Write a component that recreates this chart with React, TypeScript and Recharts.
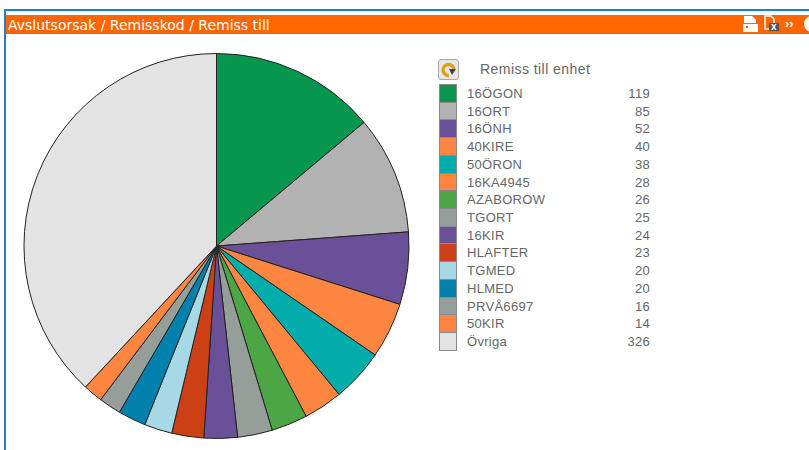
import { PieChart, Pie, Cell, Legend } from 'recharts'

const LABELS = ['16ÖGON', '16ORT', '16ÖNH', '40KIRE', '50ÖRON', '16KA4945', 'AZABOROW', 'TGORT', '16KIR', 'HLAFTER', 'TGMED', 'HLMED', 'PRVÅ6697', '50KIR', 'Övriga']
const VALUES = [119, 85, 52, 40, 38, 28, 26, 25, 24, 23, 20, 20, 16, 14, 326]
const COLORS = ['#06964e', '#b2b2b2', '#6a5096', '#ff8640', '#00adaa', '#ff8640', '#4ca646', '#959e98', '#6a5096', '#cd3f14', '#a6d8e6', '#0080ad', '#959e98', '#ff8640', '#e3e3e3']

const data = LABELS.map((name, i) => ({ name, value: VALUES[i] }))

function LegendTable() {
  return (
    <div style={{ position: 'relative', width: 225, height: 310, fontFamily: 'Liberation Sans, Arial, sans-serif', fontSize: 13, color: '#666' }}>
      <div style={{ position: 'absolute', left: 1, top: -25, width: 21, height: 21, boxSizing: 'border-box', background: '#e8e8e8', border: '1px solid #aaa', borderRadius: 3 }}>
        <svg width="19" height="19" viewBox="0 0 19 19">
          <path d="M4 10 A5.5 5.5 0 1 1 15 10" fill="none" stroke="#e0a010" strokeWidth="3.4" />
          <path d="M4 10 A5.5 5.5 0 0 0 10 15.5" fill="none" stroke="#e0a010" strokeWidth="3.4" />
          <path d="M10 9 L17 9 L13 15 Z" fill="#444" />
        </svg>
      </div>
      <div style={{ position: 'absolute', left: 43, top: -25, lineHeight: '20px', fontSize: 14, letterSpacing: 0.45, whiteSpace: 'nowrap' }}>Remiss till enhet</div>
      {LABELS.map((label, i) => (
        <div key={label} style={{ position: 'absolute', left: 0, top: i * 17.72, width: 213, height: 17.72, lineHeight: '17.72px' }}>
          <div style={{ position: 'absolute', left: 2, top: 0, width: 18, height: i === LABELS.length - 1 ? 18.5 : 17.72, boxSizing: 'border-box', background: COLORS[i], border: '1px solid #8a8a8a', borderBottomWidth: i === LABELS.length - 1 ? 1 : 0 }} />
          <span style={{ position: 'absolute', left: 30, top: 1, letterSpacing: 0.3, whiteSpace: 'nowrap' }}>{label}</span>
          <span style={{ position: 'absolute', right: 0, top: 1, letterSpacing: 0.3 }}>{VALUES[i]}</span>
        </div>
      ))}
    </div>
  )
}

function ToolIcons() {
  return (
    <svg width="70" height="18" style={{ position: 'absolute', left: 739, top: 15 }}>
      <path d="M5 1 H13 L17 5 V8 H5 Z" fill="#fff" />
      <rect x="4" y="9" width="15" height="8" fill="#fff" />
      <rect x="7" y="11" width="2" height="2" fill="#ff6600" />
      <path d="M26 1 H32 L35 4 V14 H26 Z" fill="none" stroke="#fff" strokeWidth="1.4" />
      <rect x="30" y="8" width="10" height="8" fill="#555" />
      <text x="32" y="15" fontSize="10" fontWeight="bold" fill="#fff" fontFamily="Liberation Sans">x</text>
      <text x="46" y="13" fontSize="13" fontWeight="bold" fill="#fff" fontFamily="Liberation Sans">››</text>
      <circle cx="73" cy="9" r="8" fill="#fff" />
    </svg>
  )
}

export default function App() {
  return (
    <div style={{ position: 'fixed', left: 0, top: 0, width: 809, height: 450, overflow: 'hidden', background: '#fff' }}>
      <div style={{ position: 'absolute', left: 4, top: 9, width: 830, height: 470, boxSizing: 'border-box', border: '2px solid #1f7fc8' }} />
      <div style={{ position: 'absolute', left: 6, top: 15, width: 803, height: 19, background: '#ff6600', color: '#fff', fontFamily: 'DejaVu Sans, Verdana, sans-serif', fontSize: 14, lineHeight: '20px', paddingLeft: 2, boxSizing: 'border-box', whiteSpace: 'nowrap' }}>
        Avslutsorsak / Remisskod / Remiss till
      </div>
      <ToolIcons />
      <div style={{ position: 'absolute', left: 0, top: 34 }}>
        <PieChart width={809} height={416} margin={{ top: 0, right: 0, bottom: 0, left: 0 }}>
          <Pie
            data={data}
            dataKey="value"
            nameKey="name"
            cx={216.5}
            cy={212}
            innerRadius={0}
            outerRadius={192.5}
            startAngle={90}
            endAngle={-270}
            stroke="#222"
            strokeWidth={1}
            isAnimationActive={false}
            label={false}
            labelLine={false}
          >
            {data.map((row, i) => (
              <Cell key={row.name} fill={COLORS[i]} />
            ))}
          </Pie>
          <Legend
            content={() => <LegendTable />}
            wrapperStyle={{ position: 'absolute', left: 437, top: 50, width: 225, height: 310 }}
          />
        </PieChart>
      </div>
    </div>
  )
}
